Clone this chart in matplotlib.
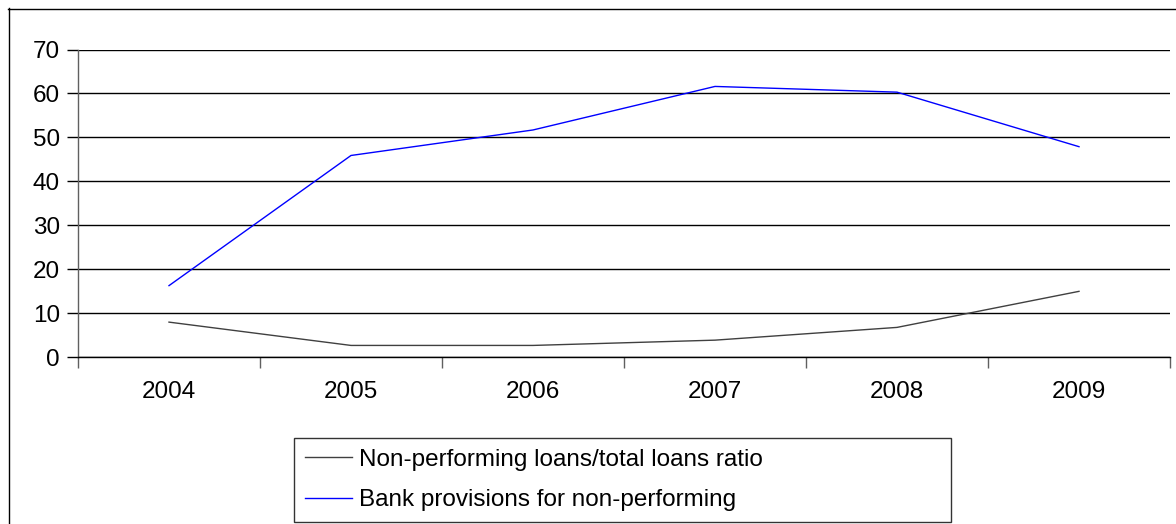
import matplotlib
matplotlib.use("Agg")
import matplotlib.pyplot as plt
from matplotlib.lines import Line2D
import numpy as np

plt.rcParams['font.family'] = ['Liberation Sans', 'DejaVu Sans']

years = ["2004", "2005", "2006", "2007", "2008", "2009"]
npl_ratio = [8.0, 2.7, 2.7, 3.9, 6.8, 15.0]
provisions = [16.3, 45.9, 51.7, 61.6, 60.3, 47.9]
y_ticks = [0, 10, 20, 30, 40, 50, 60, 70]
series_labels = ["Non-performing loans/total loans ratio",
                 "Bank provisions for non-performing"]

FS = 17.5
W, H = 1176, 524
fig = plt.figure(figsize=(W / 100, H / 100), dpi=100)

# plot area in pixel terms
x0, x1 = 78, 1170
y_top, y_bot = 49.5, 357.3
ax = fig.add_axes([x0 / W, 1 - y_bot / H, (x1 - x0) / W, (y_bot - y_top) / H])

x = np.arange(len(years))
ax.plot(x, npl_ratio, color="#404040", lw=1.0, label=series_labels[0])
ax.plot(x, provisions, color="#0000ff", lw=1.0, label=series_labels[1])

ax.set_ylim(0, 70)
ax.set_xlim(-0.5, len(years) - 0.5)
ax.set_yticks(y_ticks)
ax.set_yticklabels([str(v) for v in y_ticks])
ax.yaxis.grid(True, color="black", lw=1.0)
ax.set_axisbelow(True)

# category boundaries carry the tick marks, labels sit between them
ax.set_xticks(np.arange(-0.5, len(years), 1.0))
ax.set_xticklabels([])
ax.set_xticks(x, minor=True)
ax.set_xticklabels(years, minor=True)
ax.tick_params(axis="x", which="major", length=8, width=1, color="#606060", direction="out")
ax.tick_params(axis="x", which="minor", length=0, pad=17, labelsize=FS)
ax.tick_params(axis="y", length=8, width=1, color="black", direction="out", pad=5, labelsize=FS)

for side in ("top", "right"):
    ax.spines[side].set_visible(False)
ax.spines["left"].set_color("#606060")
ax.spines["bottom"].set_color("black")
ax.spines["left"].set_linewidth(1.0)
ax.spines["bottom"].set_linewidth(1.0)

# chart border (left and top edges)
fig.add_artist(Line2D([8.5 / W, 8.5 / W], [0, 1 - 8 / H], transform=fig.transFigure,
                      color="black", lw=1.0))
fig.add_artist(Line2D([8 / W, 1], [1 - 8.5 / H, 1 - 8.5 / H], transform=fig.transFigure,
                      color="black", lw=1.0))

lx0, lx1, ly0, ly1 = 294, 951, 438, 523
leg = fig.legend(loc="upper left",
                 bbox_to_anchor=(lx0 / W, 1 - ly1 / H, (lx1 - lx0) / W, (ly1 - ly0) / H),
                 mode="expand", borderaxespad=0, fancybox=False, frameon=True,
                 fontsize=FS, handlelength=1.95, handletextpad=0.28,
                 borderpad=0.45, labelspacing=0.76)
leg.get_frame().set_edgecolor("black")
leg.get_frame().set_linewidth(1.0)

fig.savefig("out.png", dpi=100)
